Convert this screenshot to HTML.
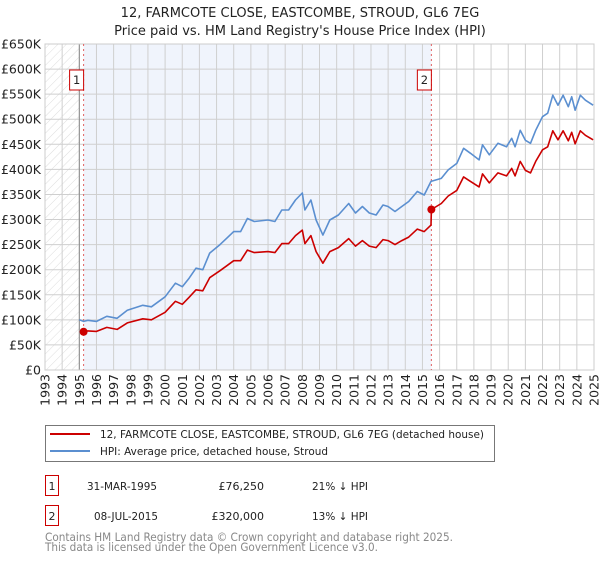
<!DOCTYPE html>
<html><head><meta charset="utf-8"><style>
body{margin:0;background:#fff;font-family:"DejaVu Sans","Liberation Sans",sans-serif;}
svg text{font-family:"DejaVu Sans","Liberation Sans",sans-serif;}
</style></head><body>
<svg id="c" width="600" height="560" xmlns="http://www.w3.org/2000/svg">
<defs><pattern id="hatch" width="6" height="6" patternUnits="userSpaceOnUse" patternTransform="rotate(45)"><line x1="0" y1="0" x2="0" y2="6" stroke="#ddd" stroke-width="1"/></pattern></defs>
<text x="300" y="17" text-anchor="middle" font-size="13" fill="#222">12, FARMCOTE CLOSE, EASTCOMBE, STROUD, GL6 7EG</text>
<text x="300" y="35" text-anchor="middle" font-size="13" fill="#222">Price paid vs. HM Land Registry's House Price Index (HPI)</text>
<g id="plot"></g>
<g>
<rect x="45.5" y="425.5" width="449" height="36" fill="#fff" stroke="#777"/>
<line x1="50" y1="434" x2="90" y2="434" stroke="#cc0000" stroke-width="2"/>
<text x="100" y="438" font-size="11" fill="#222" textLength="384" lengthAdjust="spacingAndGlyphs">12, FARMCOTE CLOSE, EASTCOMBE, STROUD, GL6 7EG (detached house)</text>
<line x1="50" y1="451" x2="90" y2="451" stroke="#5b8fd0" stroke-width="2"/>
<text x="100" y="455" font-size="11" fill="#222" textLength="228" lengthAdjust="spacingAndGlyphs">HPI: Average price, detached house, Stroud</text>
</g>
<g font-size="11" fill="#222">
<rect x="45.5" y="475.5" width="13" height="20" fill="#fff" stroke="#cc0000"/>
<text x="52" y="490" text-anchor="middle">1</text>
<text x="87" y="490" textLength="70" lengthAdjust="spacingAndGlyphs">31-MAR-1995</text>
<text x="264" y="490" text-anchor="end">£76,250</text>
<text x="312" y="490" textLength="56" lengthAdjust="spacingAndGlyphs">21% ↓ HPI</text>
<rect x="45.5" y="505.5" width="13" height="20" fill="#fff" stroke="#cc0000"/>
<text x="52" y="520" text-anchor="middle">2</text>
<text x="94" y="520" textLength="64" lengthAdjust="spacingAndGlyphs">08-JUL-2015</text>
<text x="264" y="520" text-anchor="end">£320,000</text>
<text x="312" y="520" textLength="56" lengthAdjust="spacingAndGlyphs">13% ↓ HPI</text>
</g>
<text x="45" y="541" font-size="11.5" fill="#888" textLength="408" lengthAdjust="spacingAndGlyphs">Contains HM Land Registry data © Crown copyright and database right 2025.</text>
<text x="45" y="551" font-size="11.5" fill="#888" textLength="333" lengthAdjust="spacingAndGlyphs">This data is licensed under the Open Government Licence v3.0.</text>
</svg>
<script>
const hpiYears=[1995.0,1995.25,1995.5,1996.0,1996.6,1997.2,1997.8,1998.7,1999.2,2000.0,2000.6,2001.0,2001.4,2001.8,2002.2,2002.6,2003.2,2003.6,2004.0,2004.4,2004.8,2005.2,2006.0,2006.4,2006.8,2007.2,2007.6,2008.0,2008.15,2008.5,2008.8,2009.2,2009.6,2010.1,2010.7,2011.1,2011.5,2011.9,2012.3,2012.7,2013.0,2013.4,2013.8,2014.2,2014.7,2015.1,2015.5,2016.1,2016.5,2017.0,2017.4,2017.8,2018.3,2018.5,2018.9,2019.4,2019.9,2020.2,2020.4,2020.7,2021.0,2021.3,2021.6,2022.0,2022.3,2022.6,2022.9,2023.2,2023.5,2023.7,2023.9,2024.2,2024.5,2024.95];
const hpiValues=[100,97,99,97,107,103,119,129,126,146,173,166,183,203,200,233,250,263,276,276,302,296,299,296,319,319,339,353,319,339,299,269,299,309,332,313,326,313,309,329,326,316,326,336,356,349,376,382,399,412,442,432,419,449,429,452,445,462,445,478,458,452,478,505,512,548,528,548,525,545,518,548,538,528];
const paidYears=[1995.25,1995.5,1996.0,1996.6,1997.2,1997.8,1998.7,1999.2,2000.0,2000.6,2001.0,2001.4,2001.8,2002.2,2002.6,2003.2,2003.6,2004.0,2004.4,2004.8,2005.2,2006.0,2006.4,2006.8,2007.2,2007.6,2008.0,2008.15,2008.5,2008.8,2009.2,2009.6,2010.1,2010.7,2011.1,2011.5,2011.9,2012.3,2012.7,2013.0,2013.4,2013.8,2014.2,2014.7,2015.1,2015.5,2015.52,2016.1,2016.5,2017.0,2017.4,2017.8,2018.3,2018.5,2018.9,2019.4,2019.9,2020.2,2020.4,2020.7,2021.0,2021.3,2021.6,2022.0,2022.3,2022.6,2022.9,2023.2,2023.5,2023.7,2023.9,2024.2,2024.5,2024.95];
const paidValues=[76,78,77,85,81,94,102,100,115,137,131,145,160,158,184,198,208,218,218,239,234,236,234,252,252,268,279,252,268,236,213,236,244,262,247,258,247,244,260,258,250,258,265,281,276,289,320,332,347,358,385,376,365,391,373,393,387,402,387,416,398,393,416,439,445,477,459,477,457,474,451,477,468,459];
const saleYears=[1995.25,2015.52];
const saleValues=[76.25,320];
const saleLabels=["1","2"];
const yTicks=[0,50,100,150,200,250,300,350,400,450,500,550,600,650];
const yTickLabels=["£0","£50K","£100K","£150K","£200K","£250K","£300K","£350K","£400K","£450K","£500K","£550K","£600K","£650K"];
const xStart=1993,xEnd=2025;
const L=45,R=594,T=44,B=370;
const X=y=>L+(y-xStart)/(xEnd-xStart)*(R-L);
const Y=v=>B-v/650*(B-T);
const NS="http://www.w3.org/2000/svg";
const g=document.getElementById('plot');
function mk(tag,attrs){const e=document.createElementNS(NS,tag);for(const k in attrs)e.setAttribute(k,attrs[k]);g.appendChild(e);return e;}
let e;
e=mk('rect',{x:X(1995.25),y:T,width:X(saleYears[1])-X(1995.25),height:B-T,fill:'#f0f4fc'});


e=mk('rect',{x:L,y:T,width:X(1995)-L,height:B-T,fill:'url(#hatch)'});


yTicks.forEach((v,i)=>{
 e=mk('line',{x1:L,x2:R,y1:Y(v),y2:Y(v),stroke:'#cfcfcf','stroke-width':1});
 
 
 e=mk('text',{x:41,y:Y(v)+4.5,'text-anchor':'end','font-size':12.5,fill:'#222'});
 e.textContent=yTickLabels[i];
 
 
});
for(let yr=xStart;yr<=xEnd;yr++){
 e=mk('line',{x1:X(yr),x2:X(yr),y1:T,y2:B,stroke:'#cfcfcf','stroke-width':1});
 
 
 e=mk('text',{x:0,y:0,'text-anchor':'end','font-size':12.5,fill:'#222',transform:`translate(${X(yr)+4.5},374) rotate(-90)`});
 e.textContent=yr;
 
 
}
e=mk('line',{x1:X(1995),x2:X(1995),y1:T,y2:B,stroke:'#888','stroke-width':1});


e=mk('rect',{x:L,y:T,width:R-L,height:B-T,fill:'none',stroke:'#ccc'});


saleYears.forEach((yr,i)=>{
 e=mk('line',{x1:X(yr),x2:X(yr),y1:T,y2:B,stroke:'#e06060','stroke-width':1,'stroke-dasharray':'2,3'});
 
 
});
const pts=(xs,vs)=>xs.map((x,i)=>X(x).toFixed(1)+','+Y(vs[i]).toFixed(1)).join(' ');
e=mk('polyline',{points:pts(hpiYears,hpiValues),fill:'none',stroke:'#5b8fd0','stroke-width':1.6,'stroke-linejoin':'round'});


e=mk('polyline',{points:pts(paidYears,paidValues),fill:'none',stroke:'#cc0000','stroke-width':1.6,'stroke-linejoin':'round'});


saleYears.forEach((yr,i)=>{
 e=mk('circle',{cx:X(yr),cy:Y(saleValues[i]),r:4,fill:'#cc0000'});
 
 
 const bx=X(yr)-10;
 e=mk('rect',{x:bx-4,y:70,width:14,height:20,fill:'#fff',stroke:'#cc0000'});
 
 
 e=mk('text',{x:bx+3,y:84,'text-anchor':'middle','font-size':11.5,fill:'#222'});
 e.textContent=saleLabels[i];
 
 
});
</script>
</body></html>
